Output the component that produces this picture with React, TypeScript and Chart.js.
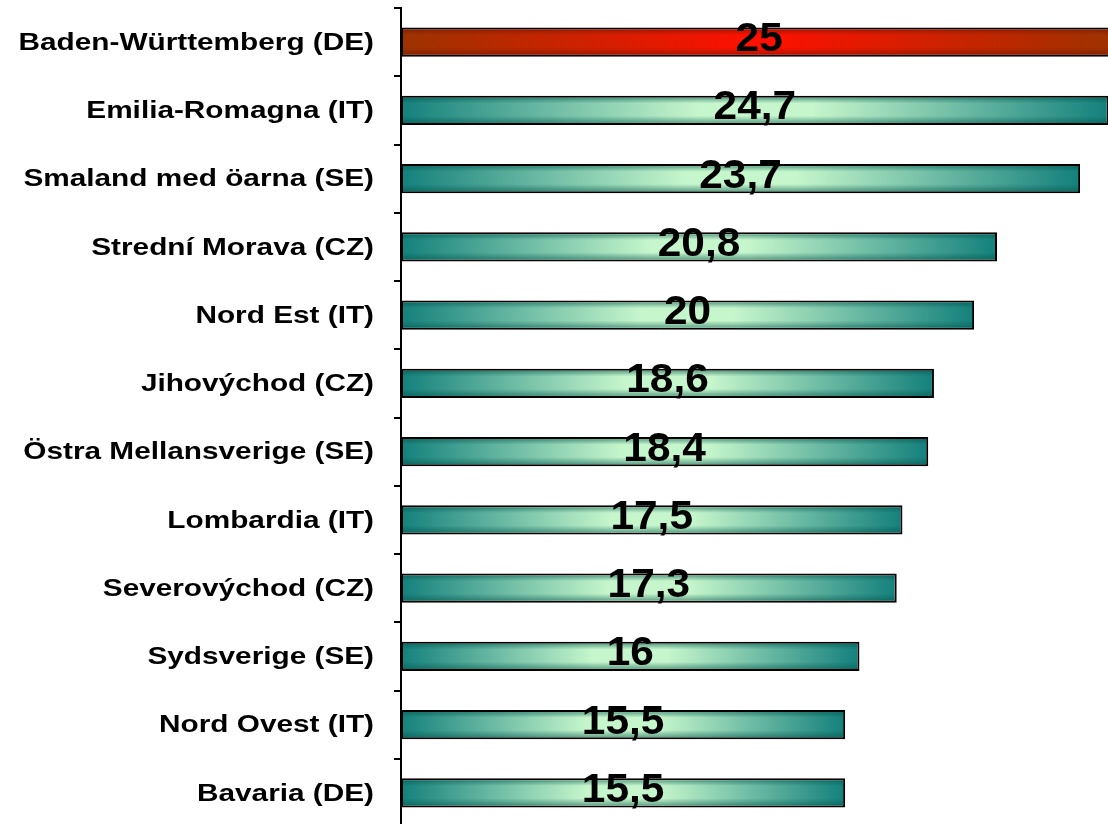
import React, { useEffect, useRef } from "react";
import { Chart, registerables } from "chart.js";

const categories = [
  "Baden-Württemberg (DE)",
  "Emilia-Romagna (IT)",
  "Smaland med öarna (SE)",
  "Strední Morava (CZ)",
  "Nord Est (IT)",
  "Jihovýchod (CZ)",
  "Östra Mellansverige (SE)",
  "Lombardia (IT)",
  "Severovýchod (CZ)",
  "Sydsverige (SE)",
  "Nord Ovest (IT)",
  "Bavaria (DE)",
];

const values = [25, 24.7, 23.7, 20.8, 20, 18.6, 18.4, 17.5, 17.3, 16, 15.5, 15.5];

const highlighted = ["Baden-Württemberg (DE)"];

const axisMin = 0;
const axisMax = 26;

const FONT = '"Liberation Sans", Arial, Helvetica, sans-serif';

function isHi(i: number) {
  return highlighted.includes(categories[i]);
}

const overlayPlugin = {
  id: "barOverlay",
  afterDatasetsDraw(chart: any) {
    const ctx = chart.ctx;
    const meta = chart.getDatasetMeta(0);
    const area = chart.chartArea;
    ctx.save();
    ctx.beginPath();
    ctx.rect(area.left, area.top, area.right - area.left, area.bottom - area.top);
    ctx.clip();
    meta.data.forEach((el: any, i: number) => {
      const { x, y, base, height } = el.getProps(["x", "y", "base", "height"], true);
      const top = y - height / 2 + 2;
      const bot = y + height / 2 - 2;
      const left = Math.min(base, x) + 2;
      const right = Math.max(base, x) - 2;
      const g = ctx.createLinearGradient(0, top, 0, bot);
      const c = isHi(i) ? "110,20,0" : "0,85,75";
      g.addColorStop(0, `rgba(${c},0.5)`);
      g.addColorStop(0.22, `rgba(${c},0)`);
      g.addColorStop(0.72, `rgba(${c},0)`);
      g.addColorStop(1, `rgba(${c},0.5)`);
      ctx.fillStyle = g;
      ctx.fillRect(left, top, right - left, bot - top);
    });
    ctx.restore();

    // value labels
    ctx.save();
    ctx.fillStyle = "#000";
    ctx.font = `bold 40px ${FONT}`;
    ctx.textAlign = "center";
    ctx.textBaseline = "alphabetic";
    meta.data.forEach((el: any, i: number) => {
      const { x, y, base } = el.getProps(["x", "y", "base"], true);
      const cx = (x + base) / 2;
      const txt = String(values[i]).replace(".", ",");
      ctx.save();
      ctx.translate(cx, y + 9);
      ctx.scale(1.06, 1);
      ctx.fillText(txt, 0, 0);
      ctx.restore();
    });
    ctx.restore();
  },
  afterDraw(chart: any) {
    const ctx = chart.ctx;
    const yScale = chart.scales.y;
    ctx.save();
    ctx.fillStyle = "#000";
    ctx.font = `bold 24px ${FONT}`;
    ctx.textAlign = "right";
    ctx.textBaseline = "middle";
    chart.data.labels.forEach((lab: string, i: number) => {
      const y = yScale.getPixelForValue(i);
      ctx.save();
      ctx.translate(yScale.right - 27, y + 1);
      ctx.scale(1.24, 1);
      ctx.fillText(lab, 0, 0);
      ctx.restore();
    });
    ctx.restore();
  },
};

export default function App() {
  const ref = useRef<HTMLCanvasElement | null>(null);

  useEffect(() => {
    Chart.register(...registerables);
    const canvas = ref.current!;
    const chart = new Chart(canvas, {
      type: "bar",
      data: {
        labels: categories,
        datasets: [
          {
            data: values,
            backgroundColor: (c: any) => {
              const chart = c.chart;
              const hi = isHi(c.dataIndex);
              const endC = hi ? "#9c3300" : "#14807c";
              const midC = hi ? "#ff1000" : "#c6f6cc";
              if (!chart.chartArea || c.raw == null) return endC;
              const xs = chart.scales.x;
              const x0 = xs.getPixelForValue(0);
              const x1 = xs.getPixelForValue(c.raw);
              const g = chart.ctx.createLinearGradient(x0, 0, x1, 0);
              g.addColorStop(0, endC);
              g.addColorStop(hi ? 0.5 : 0.42, midC);
              g.addColorStop(hi ? 0.5 : 0.58, midC);
              g.addColorStop(1, endC);
              return g;
            },
            borderColor: "#000",
            borderWidth: 2,
            borderSkipped: false,
            barPercentage: 0.425,
            categoryPercentage: 1,
          } as any,
        ],
      },
      options: {
        indexAxis: "y",
        responsive: false,
        maintainAspectRatio: false,
        animation: false,
        layout: { padding: { top: 8, bottom: 3, left: 0, right: 0 } },
        plugins: {
          legend: { display: false },
          tooltip: { enabled: false },
        },
        scales: {
          x: { display: false, min: axisMin, max: axisMax },
          y: {
            grid: {
              display: true,
              drawOnChartArea: false,
              drawTicks: true,
              tickLength: 7,
              color: "#000",
              lineWidth: 2,
            },
            border: { display: true, color: "#000", width: 2 },
            ticks: { display: false },
            afterFit: (s: any) => {
              s.width = 401;
            },
          },
        },
      } as any,
      plugins: [overlayPlugin],
    });
    return () => chart.destroy();
  }, []);

  return (
    <div
      style={{
        position: "fixed",
        left: 0,
        top: 0,
        width: 1108,
        height: 824,
        overflow: "hidden",
        background: "#fff",
      }}
    >
      <canvas ref={ref} width={1146} height={830} style={{ display: "block" }} />
    </div>
  );
}
